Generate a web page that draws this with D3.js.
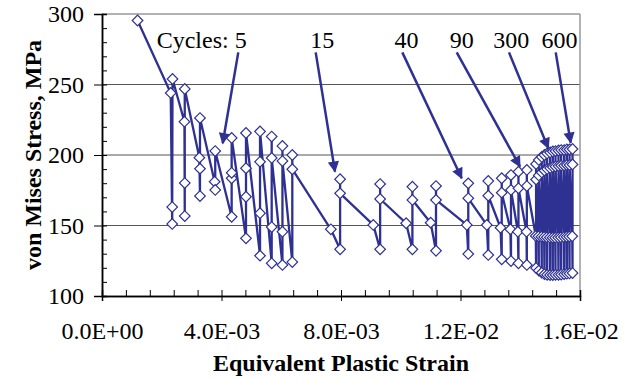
<!DOCTYPE html>
<html>
<head>
<meta charset="utf-8">
<script src="https://cdnjs.cloudflare.com/ajax/libs/d3/7.8.5/d3.min.js"></script>
<style>
body { margin: 0; background: #fff; }
text { font-family: "Liberation Serif", "Times New Roman", serif; }
</style>
</head>
<body>
<script>
// equivalent plastic strain (in units of 1E-03), in path order
var strain = [
  1.19,
  2.30, 2.35, 2.35, 2.36,
  2.76, 2.77, 2.77, 2.77,
  3.26, 3.28, 3.28, 3.28,
  3.77, 3.79, 3.79,
  4.34, 4.34, 4.34, 4.34,
  4.82, 4.82, 4.82, 4.82,
  5.29, 5.29, 5.29, 5.29,
  5.68, 5.68, 5.68, 5.68,
  6.04, 6.04, 6.04, 6.04,
  6.37, 6.37, 6.37,
  7.66, 7.97, 7.97, 7.97,
  9.08, 9.31, 9.31, 9.31,
  10.18, 10.39, 10.39, 10.39,
  11.00, 11.18, 11.18, 11.18,
  12.21, 12.26, 12.26, 12.26,
  12.88, 12.93, 12.93, 12.93,
  13.34, 13.38, 13.38, 13.38,
  13.67, 13.69, 13.69, 13.69,
  13.92, 13.94, 13.94, 13.94,
  14.21, 14.22, 14.22, 14.22
]
// von Mises stress (MPa), same order
var stress = [
  295.4,
  244.0, 151.1, 163.1, 253.9,
  223.6, 156.7, 180.1, 246.8,
  198.1, 170.9, 190.3, 226.2,
  181.1, 175.2, 202.8,
  156.2, 183.5, 187.4, 212.1,
  140.9, 170.4, 190.6, 215.6,
  128.6, 158.7, 195.2, 216.7,
  123.2, 148.9, 213.1, 197.9,
  122.0, 145.6, 206.4, 195.7,
  124.1, 200.0, 189.9,
  147.3, 133.1, 182.8, 172.8,
  150.4, 133.1, 179.4, 168.8,
  151.6, 133.1, 177.5, 168.1,
  152.0, 132.1, 178.0, 168.1,
  150.4, 129.8, 179.9, 169.3,
  150.4, 129.1, 181.6, 171.1,
  148.4, 126.0, 183.5, 173.3,
  147.3, 124.8, 185.8, 175.2,
  145.6, 123.2, 188.2, 176.4,
  145.6, 122.0, 189.4, 178.0
]
// late cycles, tightly packed: strain of each cycle and its four stresses
var lateStrain = [14.53, 14.62, 14.72, 14.81, 14.90, 15.00, 15.09, 15.18, 15.28, 15.37, 15.47, 15.56, 15.65, 15.75]
var lateA = [142.6, 142.3, 142.0, 141.8, 141.6, 141.5, 141.4, 141.4, 141.5, 141.6, 141.8, 142.0, 142.2, 142.4]
var lateMin = [119.9, 118.0, 116.5, 115.5, 115.0, 114.9, 114.9, 115.0, 115.0, 115.2, 115.5, 115.8, 116.0, 116.3]
var lateMax = [193.6, 196.5, 198.6, 200.0, 201.1, 201.8, 202.5, 202.8, 203.2, 203.5, 203.5, 203.9, 203.9, 204.3]
var lateB = [182.6, 185.5, 187.6, 189.0, 190.1, 190.8, 191.5, 191.8, 192.2, 192.5, 192.5, 192.9, 192.9, 193.3]

// annotations
var noteText = ['Cycles: 5', '15', '40', '90', '300', '600']
var noteX = [3.337, 7.371, 10.192, 12.040, 13.697, 15.314]
var noteY = 275.7
var arrowFromX = [4.562, 7.153, 10.052, 11.873, 13.623, 15.187]
var arrowFromY = 272.8
var arrowToX = [4.040, 7.799, 12.040, 13.992, 14.939, 15.689]
var arrowToY = [208.3, 188.2, 183.5, 191.7, 204.8, 208.7]

var xTicks = [0, 4, 8, 12, 16]
var xTickLabels = ['0.0E+00', '4.0E-03', '8.0E-03', '1.2E-02', '1.6E-02']
var yTicks = [100, 150, 200, 250, 300]

var width = 632, height = 381
var margin = {top: 14, right: 52, bottom: 85, left: 102}
var blue = '#2E3192'

var data = strain.map((d, i) => ({x: d, y: stress[i]}))
lateStrain.forEach((d, i) => {
    data.push({x: d - 0.01, y: lateA[i]})
    data.push({x: d, y: lateMin[i]})
    data.push({x: d, y: lateMax[i]})
    data.push({x: d, y: lateB[i]})
})

var svg = d3.select('body').append('svg')
    .attr('width', width)
    .attr('height', height)

var x = d3.scaleLinear().domain([0, 16]).range([margin.left, width - margin.right])
var y = d3.scaleLinear().domain([100, 300]).range([height - margin.bottom, margin.top])

// grid + frame
svg.selectAll('.grid')
    .data([150, 200, 250]).enter()
    .append('line')
    .attr('x1', x(0)).attr('x2', x(16))
    .attr('y1', d => y(d)).attr('y2', d => y(d))
    .attr('stroke', '#555').attr('stroke-width', 1)
svg.append('line')
    .attr('x1', x(0)).attr('x2', x(16))
    .attr('y1', y(300)).attr('y2', y(300))
    .attr('stroke', '#999').attr('stroke-width', 1.5)
svg.append('line')
    .attr('x1', x(16)).attr('x2', x(16))
    .attr('y1', y(300)).attr('y2', y(100))
    .attr('stroke', '#999').attr('stroke-width', 1.5)

// axes: minor ticks inside, majors cross
var xMinor = svg.append('g')
    .attr('transform', `translate(0,${y(100)})`)
    .call(d3.axisBottom(x).tickValues(d3.range(0, 16.01, 0.8)).tickSize(-6).tickFormat(''))
var xMajor = svg.append('g')
    .attr('transform', `translate(0,${y(100)})`)
    .call(d3.axisBottom(x).tickValues(xTicks).tickSize(5).tickPadding(21)
        .tickFormat((d, i) => xTickLabels[i]))
var yMinor = svg.append('g')
    .attr('transform', `translate(${x(0)},0)`)
    .call(d3.axisLeft(y).tickValues(d3.range(100, 301, 10)).tickSize(-5).tickFormat(''))
var yMajor = svg.append('g')
    .attr('transform', `translate(${x(0)},0)`)
    .call(d3.axisLeft(y).tickValues(yTicks).tickSize(8).tickPadding(10))

svg.selectAll('.domain').attr('stroke', '#000').attr('stroke-width', 1.5)
svg.selectAll('.tick line').attr('stroke', '#000').attr('stroke-width', 1)
svg.selectAll('.tick text')
    .attr('font-family', '"Liberation Serif", serif')
    .attr('font-size', 24)
    .attr('fill', '#000')

// axis titles
svg.append('text')
    .attr('x', (x(0) + x(16)) / 2)
    .attr('y', 371)
    .attr('text-anchor', 'middle')
    .attr('font-size', 24)
    .attr('font-weight', 'bold')
    .text('Equivalent Plastic Strain')
svg.append('text')
    .attr('transform', `translate(41,${(y(100) + y(300)) / 2}) rotate(-90)`)
    .attr('text-anchor', 'middle')
    .attr('font-size', 24)
    .attr('font-weight', 'bold')
    .text('von Mises Stress, MPa')

// series
var line = d3.line().x(d => x(d.x)).y(d => y(d.y))
svg.append('path')
    .datum(data)
    .attr('d', line)
    .attr('fill', 'none')
    .attr('stroke', blue)
    .attr('stroke-width', 2.3)
    .attr('stroke-linejoin', 'round')

var diamond = d3.symbol().type(d3.symbolSquare).size(56)
svg.selectAll('.point')
    .data(data).enter()
    .append('path')
    .attr('class', 'point')
    .attr('d', diamond)
    .attr('transform', d => `translate(${x(d.x)},${y(d.y)}) rotate(45)`)
    .attr('fill', '#fff')
    .attr('stroke', blue)
    .attr('stroke-width', 1.2)

// annotation arrows
svg.append('defs').append('marker')
    .attr('id', 'head')
    .attr('viewBox', '0 0 10 10')
    .attr('refX', 9).attr('refY', 5)
    .attr('markerWidth', 5).attr('markerHeight', 4.5)
    .attr('markerUnits', 'strokeWidth')
    .attr('orient', 'auto')
    .append('path')
    .attr('d', 'M0,0L10,5L0,10Z')
    .attr('fill', blue)

svg.selectAll('.arrow')
    .data(noteText).enter()
    .append('line')
    .attr('x1', (d, i) => x(arrowFromX[i]))
    .attr('y1', y(arrowFromY))
    .attr('x2', (d, i) => x(arrowToX[i]))
    .attr('y2', (d, i) => y(arrowToY[i]))
    .attr('stroke', blue)
    .attr('stroke-width', 2.5)
    .attr('marker-end', 'url(#head)')

svg.selectAll('.note')
    .data(noteText).enter()
    .append('text')
    .attr('x', (d, i) => x(noteX[i]))
    .attr('y', y(noteY))
    .attr('text-anchor', 'middle')
    .attr('font-size', 24)
    .attr('fill', '#000')
    .text(d => d)
</script>
</body>
</html>
